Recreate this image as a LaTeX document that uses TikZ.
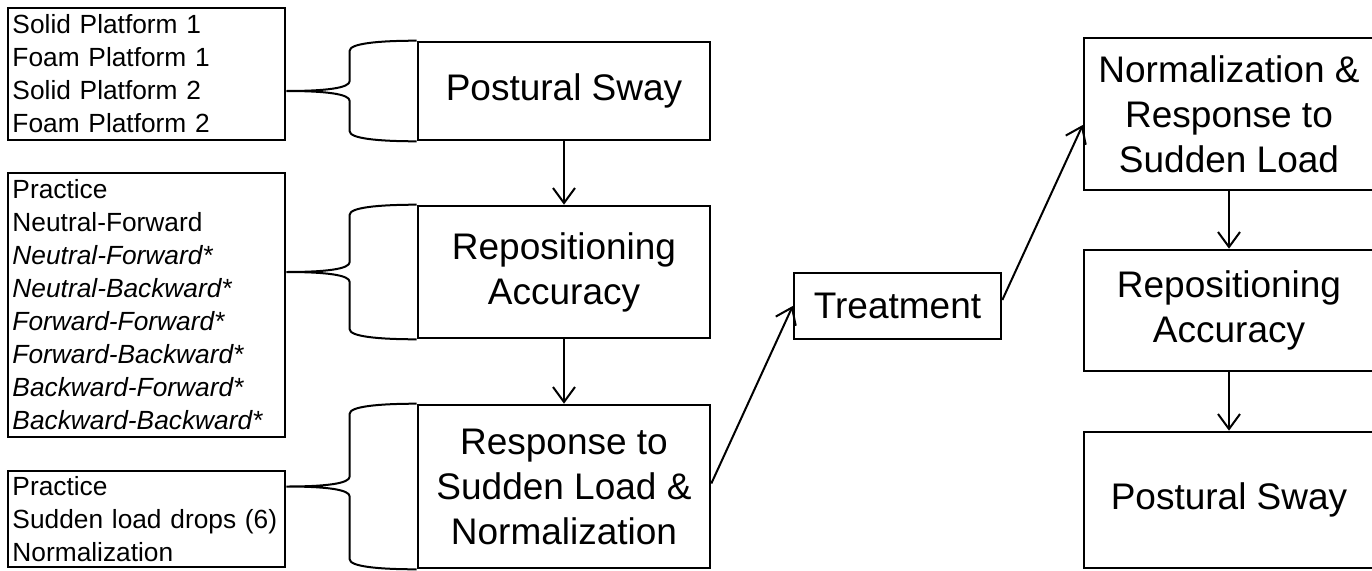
\documentclass[tikz,border=0pt]{standalone}
\usepackage{fontspec}
\setmainfont{Liberation Sans}
\usetikzlibrary{arrows.meta,calc}
\tikzset{
  bigbox/.style={draw, line width=2.6pt, align=center, inner sep=0pt,
    font=\fontsize{37}{45}\selectfont},
  listbox/.style={draw, line width=2.6pt, align=left, inner xsep=3pt, inner ysep=0pt,
    minimum width=277pt, text width=268pt, font=\fontsize{26.3}{33}\selectfont},
  flow/.style={line width=2pt, -{Straight Barb[length=15pt,width=22pt,line width=2pt]}},
  bracestyle/.style={line width=2pt}
}
\newcommand\mybrace[2]{%
  \draw[bracestyle] (#1.north west) .. controls +(-40,0) and +(0,-7) .. ($(#1.north west)+(-67,10)$)
    -- ($(#1.west)+(-67,-10)$) .. controls +(0,7) and +(40,0) .. (#2.east |- #1.west)
    .. controls +(40,0) and +(0,-7) .. ($(#1.west)+(-67,10)$)
    -- ($(#1.south west)+(-67,-10)$) .. controls +(0,7) and +(-40,0) .. (#1.south west);}
\begin{document}
\begin{tikzpicture}[x=1pt,y=-1pt]
\useasboundingbox (0,0) rectangle (1372,570);
% left lists
\node[listbox, minimum height=132pt] (l1) at (146.5,74)
  {Solid Platform 1\\Foam Platform 1\\Solid Platform 2\\Foam Platform 2};
\node[listbox, minimum height=264pt] (l2) at (146.5,305)
  {Practice\\Neutral-Forward\\\textit{Neutral-Forward*}\\\textit{Neutral-Backward*}\\\textit{Forward-Forward*}\\\textit{Forward-Backward*}\\\textit{Backward-Forward*}\\\textit{Backward-Backward*}};
\node[listbox, minimum height=96pt] (l3) at (146.5,519)
  {Practice\\Sudden load drops (6)\\Normalization};
% middle column
\node[bigbox, minimum width=292pt, minimum height=98pt] (ps) at (564,91) {Postural Sway};
\node[bigbox, minimum width=292pt, minimum height=132pt] (rep) at (564,272) {Repositioning\\Accuracy};
\node[bigbox, minimum width=292pt, minimum height=163pt] (resp) at (564,486.5) {Response to\\Sudden Load \&\\Normalization};
% treatment
\node[bigbox, minimum width=207pt, minimum height=66pt] (tr) at (897.5,306) {Treatment};
% right column
\node[bigbox, minimum width=290pt, minimum height=152pt] (n1) at (1229,114) {Normalization \&\\Response to\\Sudden Load};
\node[bigbox, minimum width=290pt, minimum height=121pt] (r2) at (1229,310.5) {Repositioning\\Accuracy};
\node[bigbox, minimum width=290pt, minimum height=136pt] (p2) at (1229,500) {Postural Sway};
% braces
\mybrace{ps}{l1}
\mybrace{rep}{l2}
\mybrace{resp}{l3}
% arrows
\draw[flow] (ps.south) -- (rep.north);
\draw[flow] (rep.south) -- (resp.north);
\draw[flow] ([yshift=3pt]resp.east) -- (tr.west);
\draw[flow] ([yshift=6pt]tr.east) -- ([yshift=-11pt]n1.west);
\draw[flow] (n1.south) -- (r2.north);
\draw[flow] (r2.south) -- (p2.north);
\end{tikzpicture}
\end{document}
